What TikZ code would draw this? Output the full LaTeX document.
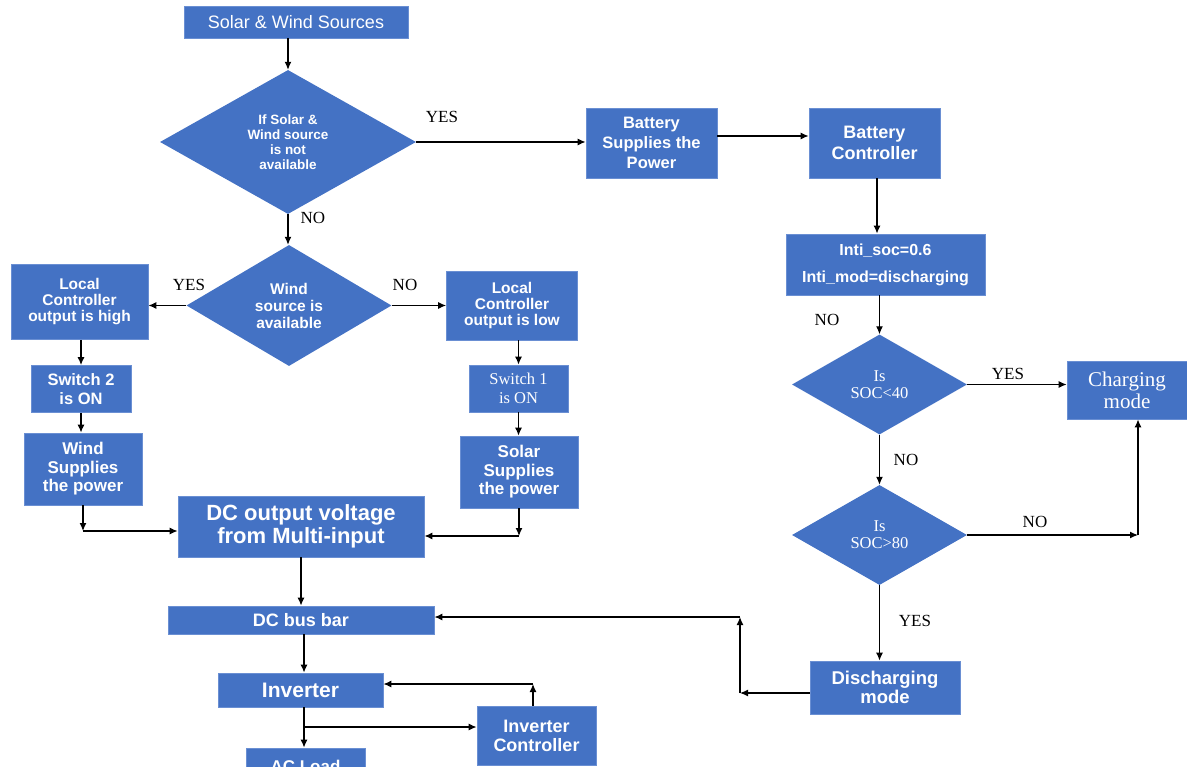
\documentclass[tikz,border=0pt]{standalone}
\usepackage{fontspec}
\setmainfont{Liberation Serif}
\setsansfont{Liberation Sans}
\usepackage{xcolor}
\usetikzlibrary{arrows.meta,shapes.geometric,calc}
\definecolor{blockblue}{HTML}{4472C4}
\definecolor{blockedge}{HTML}{6A8FD3}
\newcommand{\fsz}[2]{\fontsize{#1}{#2}\selectfont}
\tikzset{
	block/.style={rectangle, fill=blockblue, draw=blockedge, line width=0.8pt, text=white, align=center, inner sep=0pt},
	decision/.style={diamond, fill=blockblue, draw=none, text=white, align=center, inner sep=0pt},
	arr/.style={-{Latex[length=8pt,width=7pt]}, line width=1.2pt},
	lbl/.style={font=\rmfamily\fsz{17}{17}}
}

\begin{document}
\begin{tikzpicture}[x=1pt, y=-1pt]
	\useasboundingbox (0,0) rectangle (1187,767);

	\node[block, font=\sffamily\fsz{18}{20}, minimum width=224pt, minimum height=32pt] (src) at (296,22) {Solar \& Wind Sources};
	\node[decision, font=\sffamily\bfseries\fsz{13.5}{15}, minimum width=256pt, minimum height=144pt] (d1) at (288,142) {If Solar \&\\Wind source\\is not\\available};
	\node[block, font=\sffamily\bfseries\fsz{16.5}{20}, minimum width=131pt, minimum height=70pt] (batt) at (651.5,143) {Battery\\Supplies the\\Power};
	\node[block, font=\sffamily\bfseries\fsz{18}{21}, minimum width=131pt, minimum height=70pt] (bctl) at (874.5,143) {Battery\\Controller};
	\node[block, font=\sffamily\bfseries\fsz{16}{27}, minimum width=199pt, minimum height=61pt] (init) at (885.5,264.5) {Inti\_soc=0.6\\Inti\_mod=discharging};
	\node[decision, font=\rmfamily\fsz{16.5}{17}, minimum width=175pt, minimum height=100pt] (d3) at (879.5,384.5) {Is\\SOC<40};
	\node[block, font=\rmfamily\fsz{21}{22}, minimum width=120pt, minimum height=58pt] (charging) at (1127,390) {Charging\\mode};
	\node[decision, font=\rmfamily\fsz{16.5}{17}, minimum width=175pt, minimum height=100pt] (d4) at (879.5,535) {Is\\SOC>80};
	\node[block, font=\sffamily\bfseries\fsz{18.5}{19}, minimum width=150pt, minimum height=53pt] (disch) at (885,687.5) {Discharging\\mode};

	\node[decision, font=\sffamily\bfseries\fsz{15.5}{17}, minimum width=205pt, minimum height=121pt] (d2) at (289,305.5) {Wind\\source is\\available};
	\node[block, font=\sffamily\bfseries\fsz{15.5}{16}, minimum width=137pt, minimum height=75pt] (localhi) at (79.5,302) {Local\\Controller\\output is high};
	\node[block, font=\sffamily\bfseries\fsz{16.5}{18.3}, minimum width=100pt, minimum height=47pt] (sw2) at (81,389) {Switch 2\\is ON};
	\node[block, font=\sffamily\bfseries\fsz{17}{18.5}, minimum width=118pt, minimum height=72pt] (wind) at (83,469) {Wind\\Supplies\\the power};
	\node[block, font=\sffamily\bfseries\fsz{15.5}{16}, minimum width=131pt, minimum height=69pt] (loclo) at (512,305.5) {Local\\Controller\\output is low};
	\node[block, font=\rmfamily\fsz{16.5}{18.5}, minimum width=99pt, minimum height=47pt] (sw1) at (518.5,388.5) {Switch 1\\is ON};
	\node[block, font=\sffamily\bfseries\fsz{17}{18.5}, minimum width=118pt, minimum height=72pt] (solar) at (519,472) {Solar\\Supplies\\the power};
	\node[block, font=\sffamily\bfseries\fsz{22}{23}, minimum width=246pt, minimum height=61pt] (dc) at (301,526.5) {DC output voltage\\from Multi-input};
	\node[block, font=\sffamily\bfseries\fsz{18}{18}, minimum width=266pt, minimum height=28pt] (bus) at (301,620) {DC bus bar};
	\node[block, font=\sffamily\bfseries\fsz{21}{22}, minimum width=165pt, minimum height=34pt] (inv) at (300.5,690) {Inverter};
	\node[block, font=\sffamily\bfseries\fsz{18}{19}, minimum width=119pt, minimum height=59pt] (invctl) at (536.5,735.5) {Inverter\\Controller};
	\node[block, font=\sffamily\bfseries\fsz{17}{18}, minimum width=119pt, minimum height=36pt] (acload) at (305.5,766) {AC Load};

	\coordinate (chg) at (1138,535);
	\coordinate (dl) at (740,693);
	\coordinate (du) at (740,617);
	\coordinate (wj) at (83,531);
	\coordinate (sj) at (519,536);
	\coordinate (ij) at (304,727);
	\coordinate (ic) at (533,684);

	\draw[arr] (src.south -| d1.north) -- (d1.north);
	\draw[arr] (d1.east) -- (d1.east -| batt.west);
	\draw[arr] ([yshift=7pt]batt.east) -- ([yshift=7pt]bctl.west);
	\draw[arr] ([xshift=2.5pt]bctl.south) -- ([xshift=2.5pt]bctl.south |- init.north);
	\draw[arr] (d3.north |- init.south) -- (d3.north);
	\draw[arr] (d3.east) -- (d3.east -| charging.west);
	\draw[arr] (d3.south) -- (d4.north);
	\draw[arr] (d4.east) -- (chg);
	\draw[arr] (chg) -- (chg |- charging.south);
	\draw[arr] (d4.south) -- (d4.south |- disch.north);
	\draw[arr] (disch.west |- dl) -- (dl);
	\draw[arr] (dl) -- (du);
	\draw[arr] (du) -- (du -| bus.east);

	\draw[arr] (d1.south) -- (d1.south |- d2.north);
	\draw[arr] (d2.west) -- (d2.west -| localhi.east);
	\draw[arr] (d2.east) -- (d2.east -| loclo.west);
	\draw[arr] (sw2.north |- localhi.south) -- (sw2.north);
	\draw[arr] (sw2.south) -- (sw2.south |- wind.north);
	\draw[arr] (wind.south) -- (wj);
	\draw[arr] (wj) -- (wj -| dc.west);
	\draw[arr] (sw1.north |- loclo.south) -- (sw1.north);
	\draw[arr] (sw1.south) -- (sw1.south |- solar.north);
	\draw[arr] (solar.south) -- (sj);
	\draw[arr] (sj) -- (sj -| dc.east);
	\draw[arr] (dc.south) -- (bus.north);
	\draw[arr] ([xshift=3pt]bus.south) -- ([xshift=3pt]bus.south |- inv.north);
	\draw[arr] ([xshift=3.5pt]inv.south) -- ([xshift=3.5pt]inv.south |- acload.north);
	\draw[arr] (ij) -- (ij -| invctl.west);
	\draw[arr] (ic |- invctl.north) -- (ic);
	\draw[arr] (ic) -- (ic -| inv.east);

	\node[lbl] (yes1) at (442,117) {YES};
	\node[lbl] (no1) at (313,218) {NO};
	\node[lbl] (yes2) at (189,285) {YES};
	\node[lbl] (no2) at (405,285) {NO};
	\node[lbl] (no3) at (827,320) {NO};
	\node[lbl] (yes3) at (1008,374) {YES};
	\node[lbl] (no4) at (906,460) {NO};
	\node[lbl] (no5) at (1035,522) {NO};
	\node[lbl] (yes4) at (915,621) {YES};
\end{tikzpicture}
\end{document}
